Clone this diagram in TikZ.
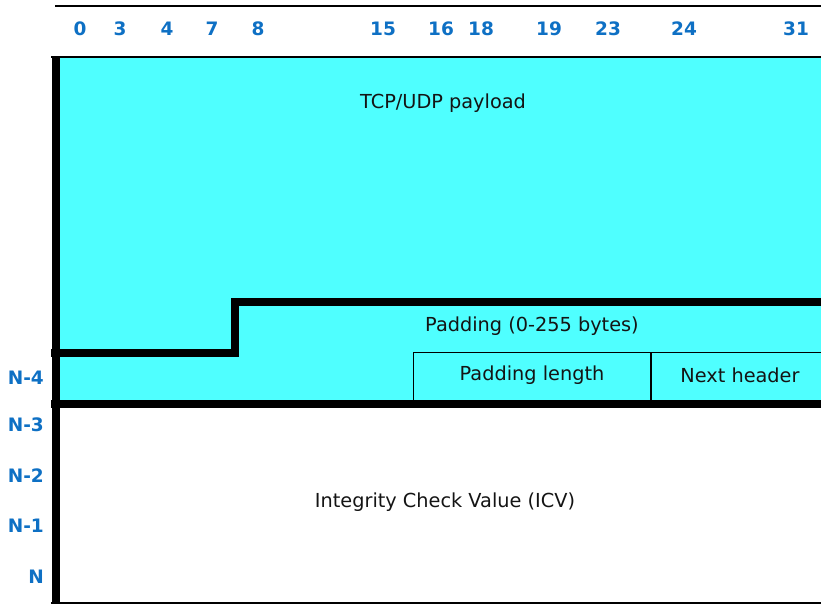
\documentclass[tikz,border=0pt]{standalone}
\usepackage{fontspec}
\setmainfont{DejaVu Sans}
\definecolor{numblue}{RGB}{14,112,196}
\definecolor{fieldcyan}{RGB}{79,255,255}
\definecolor{txt}{RGB}{20,20,20}
\tikzset{
  num/.style={font=\fontsize{18.5}{21}\selectfont\bfseries, text=numblue, inner sep=0pt},
  rowlab/.style={font=\fontsize{18.5}{21}\selectfont\bfseries, text=numblue, inner sep=0pt, anchor=east},
  field/.style={font=\fontsize{19.3}{23}\selectfont, text=txt, inner sep=0pt},
  thickline/.style={line width=8pt},
  thinline/.style={line width=2pt},
  boxline/.style={line width=1.5pt}
}
\begin{document}
\begin{tikzpicture}[x=1pt,y=-1pt]
\useasboundingbox (0,0) rectangle (821,604);
% cyan area
\fill[fieldcyan] (56,57) rectangle (821,404);
% header numbers
\foreach \v/\xx in {0/80,3/120,4/167,7/212,8/258,15/383,16/441,18/481,19/549,23/608,24/684,31/796}
  \node[num] (h\v) at (\xx,29) {\v};
% row labels
\node[rowlab] (rN4) at (44,378) {N-4};
\node[rowlab] (rN3) at (44,425) {N-3};
\node[rowlab] (rN2) at (44,476) {N-2};
\node[rowlab] (rN1) at (44,526) {N-1};
\node[rowlab] (rN)  at (44,577) {N};
% lines
\draw[thinline] (55,6) -- (821,6);
\draw[thinline] (51,57) -- (821,57);
\draw[thinline] (51,602.5) -- (821,602.5);
\draw[boxline] (413.5,404) -- (413.5,352.5) -- (821,352.5);
\draw[boxline] (651,352.5) -- (651,404);
\draw[thickline] (51,353) -- (235,353) -- (235,302) -- (821,302);
\draw[thickline] (51,404) -- (821,404);
\draw[thickline] (56,57) -- (56,603);
% field texts
\node[field] (payload) at (443,103) {TCP/UDP payload};
\node[field] (padding) at (532,326) {Padding (0-255 bytes)};
\node[field] (padlen) at (532,375) {Padding length};
\node[field] (nexthdr) at (740,375) {Next header};
\node[field] (icv) at (445,502) {Integrity Check Value (ICV)};
\end{tikzpicture}
\end{document}
